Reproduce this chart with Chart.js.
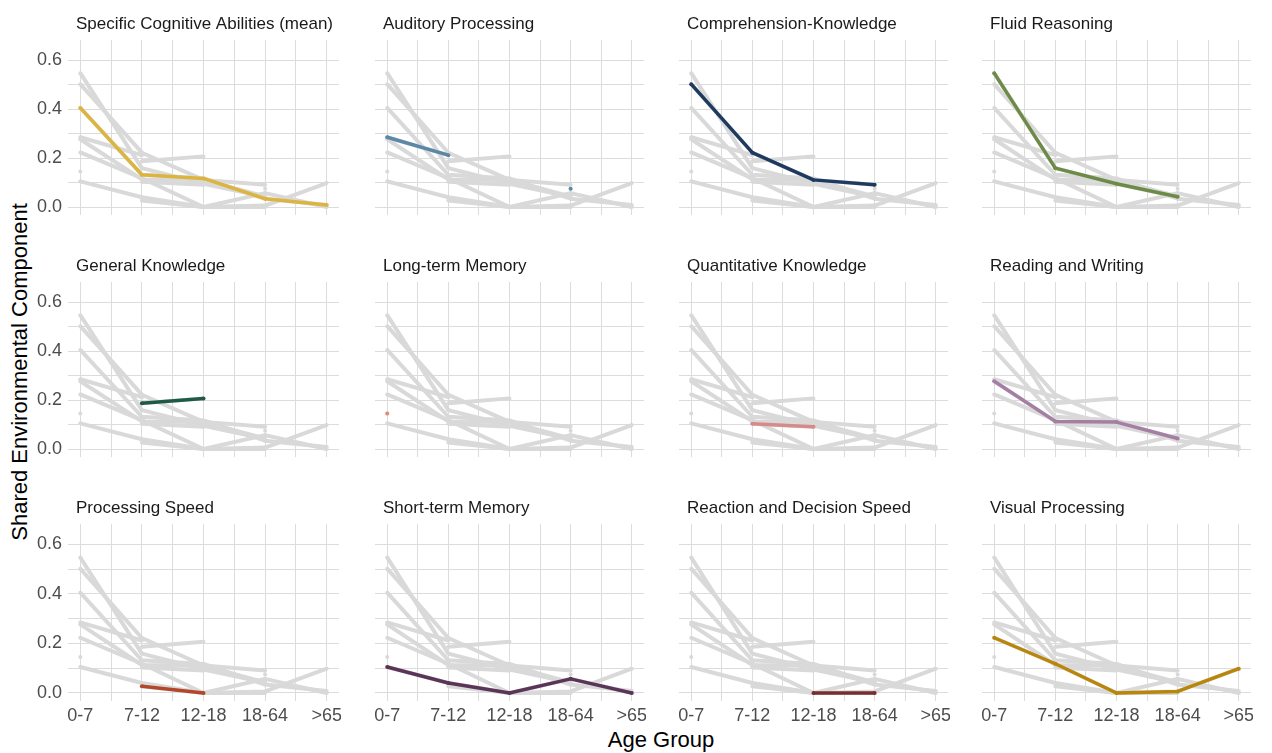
<!DOCTYPE html>
<html>
<head>
<meta charset="utf-8">
<script src="https://cdn.jsdelivr.net/npm/chart.js@4.4.1/dist/chart.umd.min.js"></script>
<style>
  body { margin: 0; background: #fff; }
  #wrap { position: relative; width: 1272px; height: 753px; font-family: 'Liberation Sans', Arial, sans-serif; overflow: hidden; }
  .panel { position: absolute; }
  #xtitle { position: absolute; left: 0; width: 1322px; top: 727px; text-align: center; font-size: 22px; line-height: 26px; color: #000; }
  #ytitle { position: absolute; left: -180px; width: 400px; top: 359px; text-align: center; font-size: 22px; line-height: 26px; color: #000; transform: rotate(-90deg); }
</style>
</head>
<body>
<div id="wrap">
  <div id="xtitle">Age Group</div>
  <div id="ytitle">Shared Environmental Component</div>
</div>
<script>
// x categories and y breaks
const ageGroups = ['0-7', '7-12', '12-18', '18-64', '>65'];
const yBreaks = [0, 0.1, 0.2, 0.3, 0.4, 0.5, 0.6];
const yTickLabels = ['0.0', '', '0.2', '', '0.4', '', '0.6'];

// one series per ability, values per age group (null = no estimate)
const abilities = [
  'Specific Cognitive Abilities (mean)', 'Auditory Processing', 'Comprehension-Knowledge', 'Fluid Reasoning',
  'General Knowledge', 'Long-term Memory', 'Quantitative Knowledge', 'Reading and Writing',
  'Processing Speed', 'Short-term Memory', 'Reaction and Decision Speed', 'Visual Processing'
];
const scaMean         = [0.405, 0.132, 0.117, 0.034, 0.008];
const auditory        = [0.285, 0.212, null, 0.075, null];
const comprehension   = [0.502, 0.222, 0.111, 0.091, null];
const fluidReasoning  = [0.547, 0.159, 0.095, 0.042, null];
const generalKnow     = [null, 0.187, 0.207, null, null];
const longTermMemory  = [0.145, null, null, null, null];
const quantitative    = [null, 0.103, 0.091, null, null];
const readingWriting  = [0.277, 0.113, 0.110, 0.043, null];
const processingSpeed = [null, 0.027, 0.0, null, null];
const shortTermMemory = [0.105, 0.040, 0.0, 0.057, 0.0];
const reactionSpeed   = [null, null, 0.0, 0.0, null];
const visualProc      = [0.223, 0.118, 0.0, 0.006, 0.098];

const seriesList = [scaMean, auditory, comprehension, fluidReasoning, generalKnow, longTermMemory,
  quantitative, readingWriting, processingSpeed, shortTermMemory, reactionSpeed, visualProc];
const colors = ['#DBB53F', '#5B88A6', '#1F3A60', '#6D8B47', '#205A45', '#E58B74',
  '#D88A8A', '#A57EA3', '#B3472A', '#5B3558', '#7A2D2D', '#B8860B'];

// layout of the facet grid
const colLeft = [68.3, 372.6, 676.9, 980.3];
const rowTop = [40, 282, 524];
const plotW = 273, plotH = 177;
const stripH = 36, yAxisW = 68, xAxisH = 40;
const FONT = "'Liberation Sans', Arial, sans-serif";
const GRID = '#DCDCDC';
const GREY = '#D9D9D9';

const xBreaks = [];
ageGroups.forEach((g, k) => { xBreaks.push(k + 1); if (k < ageGroups.length - 1) xBreaks.push(k + 1.5); });

const toXY = (vals) => vals.map((v, k) => ({ x: k + 1, y: v }));

const stripPlugin = {
  id: 'strip',
  afterDraw(chart, args, opts) {
    const ctx = chart.ctx;
    const a = chart.chartArea;
    ctx.save();
    ctx.fillStyle = '#1A1A1A';
    ctx.font = '17px ' + FONT;
    ctx.textBaseline = 'middle';
    ctx.textAlign = 'left';
    ctx.fillText(opts.text, a.left + 8, a.top - 16);
    ctx.restore();
  },
};

const wrap = document.getElementById('wrap');

abilities.forEach((name, i) => {
  const c = i % 4, r = Math.floor(i / 4);
  const showY = c === 0, showX = r === 2;
  const left = Math.round(colLeft[c] - (showY ? yAxisW : 0));
  const yW = Math.round(colLeft[c]) - left;
  const w = plotW + yW;
  const h = stripH + plotH + (showX ? xAxisH : 0);

  const box = document.createElement('div');
  box.className = 'panel';
  box.style.left = left + 'px';
  box.style.top = (rowTop[r] - stripH) + 'px';
  const cv = document.createElement('canvas');
  cv.width = w; cv.height = h;
  box.appendChild(cv);
  wrap.appendChild(box);

  const lineStyle = { pointRadius: 2, pointBorderWidth: 0, pointHoverRadius: 0, borderJoinStyle: 'round', spanGaps: false };
  // highlighted ability first so it is drawn on top of the grey ones
  const datasets = [{
    ...lineStyle,
    data: toXY(seriesList[i]),
    borderColor: colors[i],
    backgroundColor: colors[i],
    borderWidth: 3.5,
  }];
  seriesList.forEach((s) => {
    datasets.push({ ...lineStyle, data: toXY(s), borderColor: GREY, backgroundColor: GREY, borderWidth: 4 });
  });

  new Chart(cv, {
    type: 'line',
    data: { datasets },
    options: {
      responsive: false,
      animation: false,
      events: [],
      layout: { padding: { top: stripH, left: 0, right: 0, bottom: 0 } },
      plugins: {
        legend: { display: false },
        tooltip: { enabled: false },
        strip: { text: name },
      },
      scales: {
        x: {
          type: 'linear',
          min: 0.8,
          max: 5.2,
          afterBuildTicks: (s) => { s.ticks = xBreaks.map((v) => ({ value: v })); },
          afterFit: (s) => { s.height = showX ? xAxisH : 0; s.paddingLeft = 0; s.paddingRight = 0; },
          ticks: {
            display: showX,
            autoSkip: false,
            maxRotation: 0,
            padding: 4,
            color: '#4D4D4D',
            font: { size: 18, family: FONT },
            callback: (v) => (Number.isInteger(v) ? ageGroups[v - 1] : ''),
          },
          grid: { color: GRID, lineWidth: 1, drawTicks: false },
          border: { display: false },
        },
        y: {
          type: 'linear',
          min: -0.0325,
          max: 0.6825,
          afterBuildTicks: (s) => { s.ticks = yBreaks.map((v) => ({ value: v })); },
          afterFit: (s) => { s.width = yW; s.paddingTop = 0; s.paddingBottom = 0; },
          ticks: {
            display: showY,
            padding: 6,
            color: '#4D4D4D',
            font: { size: 18, family: FONT },
            callback: (v, idx) => yTickLabels[idx],
          },
          grid: { color: GRID, lineWidth: 1, drawTicks: false },
          border: { display: false },
        },
      },
    },
    plugins: [stripPlugin],
  });
});
</script>
</body>
</html>
